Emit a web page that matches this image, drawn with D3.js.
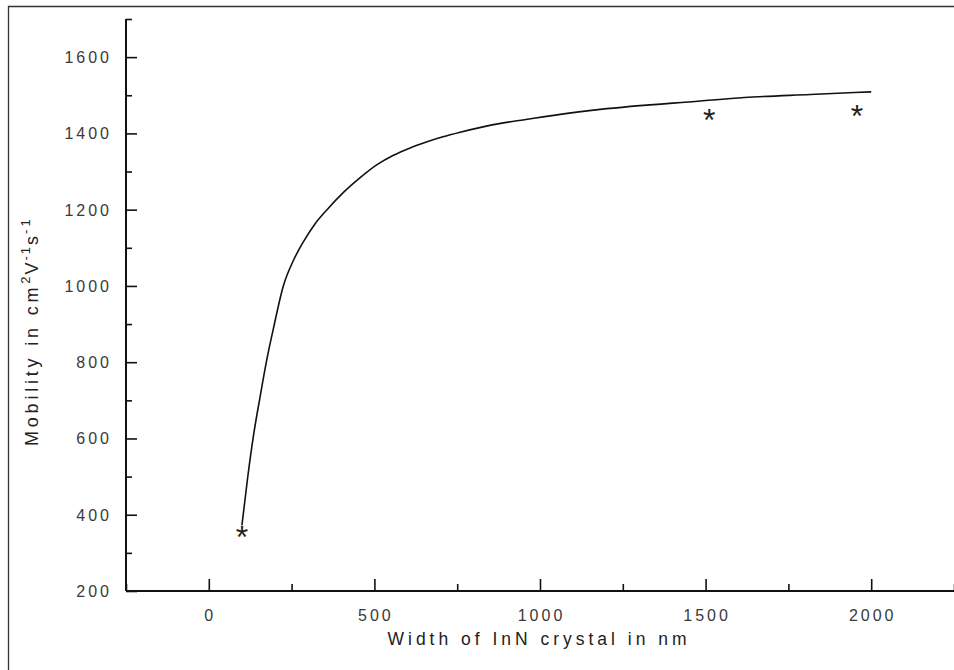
<!DOCTYPE html>
<html>
<head>
<meta charset="utf-8">
<script src="https://cdn.jsdelivr.net/npm/d3@7"></script>
<style>
  html, body { margin: 0; padding: 0; background: #fff; }
  svg { display: block; }
  text { font-family: "Liberation Sans", Arial, sans-serif; }
</style>
</head>
<body>
<svg id="chart" width="954" height="670"></svg>
<script>
// ---- data ----
const curveWidth = [100, 117, 135, 155, 175, 195, 225, 255, 285, 320, 357, 405, 457, 508, 556, 608, 659, 707, 759, 859, 962, 1061, 1182, 1484, 1617, 1816, 2000];
const curveMobility = [372, 495, 608, 710, 806, 888, 1000, 1066, 1115, 1162, 1200, 1244, 1284, 1318, 1342, 1362, 1378, 1391, 1403, 1423, 1437, 1450, 1463, 1485, 1494, 1502, 1509];
const pointWidth = [100, 1511, 1957];
const pointMobility = [360, 1453, 1463];
const xMajorTicks = [0, 500, 1000, 1500, 2000];
const xMinorTicks = [-250, 250, 750, 1250, 1750, 2250];
const yMajorTicks = [200, 400, 600, 800, 1000, 1200, 1400, 1600];
const yMinorTicks = [300, 500, 700, 900, 1100, 1300, 1500, 1700];
const xTitle = "Width of InN crystal in nm";

const svg = d3.select("#chart");

// frame (left and top borders of the picture)
svg.append("path")
  .attr("d", "M8.5,670 L8.5,6.5 L954,6.5")
  .attr("fill", "none").attr("stroke", "#333").attr("stroke-width", 1.3);

const x = d3.scaleLinear().domain([-250, 2250]).range([126, 954]);
const y = d3.scaleLinear().domain([200, 1700]).range([591, 19]);

// y axis
const yAxisG = svg.append("g").attr("transform", `translate(${x(-250)},0)`);
yAxisG.call(d3.axisRight(y).tickValues(yMajorTicks).tickSize(11).tickFormat(""));
const yMinorG = svg.append("g").attr("transform", `translate(${x(-250)},0)`);
yMinorG.call(d3.axisRight(y).tickValues(yMinorTicks).tickSize(6).tickFormat(""));
// x axis
const xAxisG = svg.append("g").attr("transform", `translate(0,${y(200)})`);
xAxisG.call(d3.axisTop(x).tickValues(xMajorTicks).tickSize(12).tickFormat(""));
const xMinorG = svg.append("g").attr("transform", `translate(0,${y(200)})`);
xMinorG.call(d3.axisTop(x).tickValues(xMinorTicks).tickSize(7).tickFormat(""));

svg.selectAll(".domain").attr("stroke", "#111").attr("stroke-width", 2);
svg.selectAll(".tick line").attr("stroke", "#111").attr("stroke-width", 1.6);
yMinorG.select(".domain").remove();
xMinorG.select(".domain").remove();
xAxisG.select(".domain").attr("d", `M${x(-250)},0H${x(2250)}`);
yAxisG.select(".domain").attr("d", `M0,${y(1700)}V${y(200)}`);

// tick labels
svg.append("g").selectAll("text").data(yMajorTicks).join("text")
  .attr("x", 112).attr("y", d => y(d) + 6)
  .attr("text-anchor", "end")
  .attr("font-size", 16).attr("letter-spacing", 3)
  .attr("fill", "#3a3a3a")
  .text(d => d);

svg.append("g").selectAll("text").data(xMajorTicks).join("text")
  .attr("x", d => x(d) + 1.5).attr("y", 621)
  .attr("text-anchor", "middle")
  .attr("font-size", 16).attr("letter-spacing", 3)
  .attr("fill", "#3a3a3a")
  .text(d => d);

// axis titles
svg.append("text")
  .attr("x", 537).attr("y", 645)
  .attr("text-anchor", "middle")
  .attr("font-size", 17.5).attr("fill", "#222")
  .attr("textLength", 299).attr("lengthAdjust", "spacing")
  .text(xTitle);

const yt = svg.append("text")
  .attr("transform", "translate(38,446) rotate(-90)")
  .attr("font-size", 18).attr("fill", "#222");
yt.append("tspan").attr("letter-spacing", 3.8).text("Mobility in cm");
yt.append("tspan").attr("dy", -8).attr("font-size", 13).attr("letter-spacing", 2).text("2");
yt.append("tspan").attr("dy", 8).attr("letter-spacing", 2).text("V");
yt.append("tspan").attr("dy", -8).attr("font-size", 13).attr("letter-spacing", 2).text("-1");
yt.append("tspan").attr("dy", 8).attr("letter-spacing", 2).text("s");
yt.append("tspan").attr("dy", -8).attr("font-size", 13).attr("letter-spacing", 3).text("-1");

// curve
const line = d3.line().x((d, i) => x(curveWidth[i])).y(d => y(d)).curve(d3.curveMonotoneX);
svg.append("path")
  .datum(curveMobility)
  .attr("d", line)
  .attr("fill", "none").attr("stroke", "#111").attr("stroke-width", 1.6);

// star markers
svg.append("g").selectAll("text").data(pointWidth).join("text")
  .attr("x", d => x(d)).attr("y", (d, i) => y(pointMobility[i]) + 18)
  .attr("text-anchor", "middle")
  .attr("font-size", 32).attr("fill", "#222")
  .text("*");
</script>
</body>
</html>
